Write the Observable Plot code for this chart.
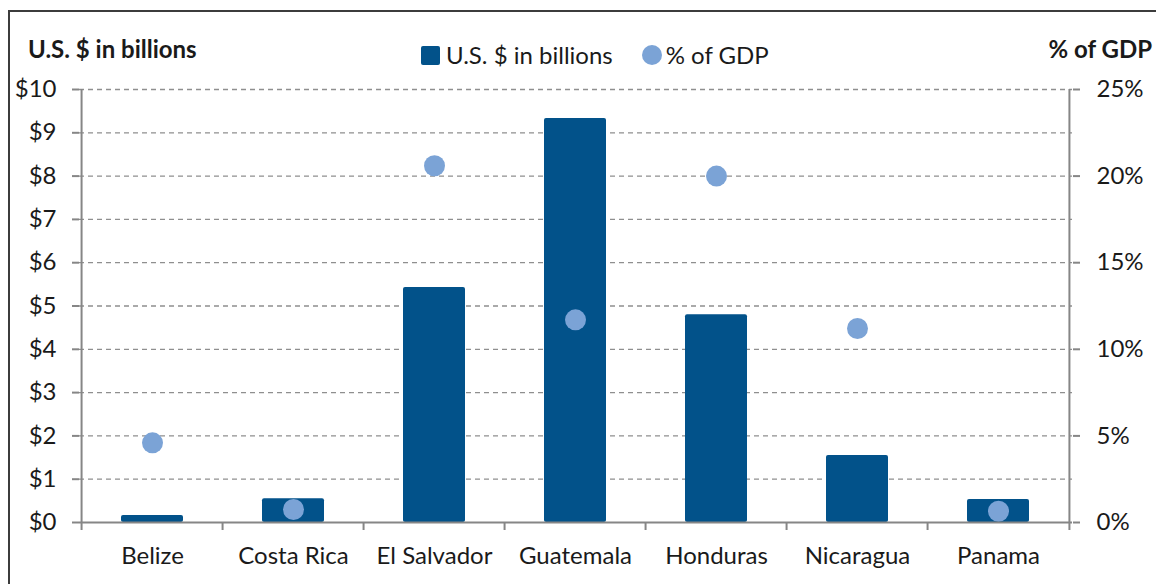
<!DOCTYPE html>
<html>
<head>
<meta charset="utf-8">
<script src="https://cdn.jsdelivr.net/npm/d3@7"></script>
<script src="https://cdn.jsdelivr.net/npm/@observablehq/plot@0.6"></script>
<style>
  html, body { margin: 0; padding: 0; background: #fff; overflow: hidden; }
  #wrap { position: relative; width: 1156px; height: 584px; font-family: Lato, "Open Sans", sans-serif; color: #1a1a1a; }
  #border { position: absolute; left: 8px; top: 10px; width: 1300px; height: 700px; border: 2px solid #3c3c3c; box-sizing: border-box; }
  .lbl { position: absolute; font-size: 24px; white-space: nowrap; line-height: 1; }
  #chart { position: absolute; left: 0; top: 0; }
</style>
</head>
<body>
<div id="wrap">
  <div id="border"></div>
  <div id="chart"></div>
  <div class="lbl" id="tl" style="left:28px; top:37px; font-weight:bold;">U.S. $ in billions</div>
  <div class="lbl" id="tr" style="right:4px; top:37px; font-weight:bold;">% of GDP</div>
  <div class="lbl" style="left:421px; top:43px; display:flex; align-items:center;">
    <span style="display:inline-block; width:19px; height:19px; background:#02528a; border-radius:2px; margin-right:6px;"></span>
    <span>U.S. $ in billions</span>
    <span style="display:inline-block; width:20px; height:20px; background:#7ba3d6; border-radius:50%; margin-left:29px; margin-right:4px;"></span>
    <span>% of GDP</span>
  </div>
</div>
<script>
const categories = ["Belize", "Costa Rica", "El Salvador", "Guatemala", "Honduras", "Nicaragua", "Panama"];
const usdBillions = [0.16, 0.55, 5.43, 9.33, 4.80, 1.55, 0.53];
const pctGDP = [4.6, 0.75, 20.6, 11.7, 20.0, 11.2, 0.65];
const leftTicks = [0, 1, 2, 3, 4, 5, 6, 7, 8, 9, 10];
const rightTicks = [0, 5, 10, 15, 20, 25];

const yMax = 10, pctMax = 25;
const rows = categories.map((c, i) => ({country: c, usd: usdBillions[i], pct: pctGDP[i]}));

const W = 1156, H = 584;
const mL = 79, mR = 84, mT = 89, mB = 62;
const step = (W - mL - mR) / categories.length;
const axisGray = "#868686";

const chart = Plot.plot({
  width: W,
  height: H,
  marginLeft: mL,
  marginRight: mR,
  marginTop: mT,
  marginBottom: mB,
  style: {fontFamily: "Lato, 'Open Sans', sans-serif", fontSize: "24px", color: "#1a1a1a", background: "transparent"},
  x: {type: "band", domain: categories, paddingInner: 0.56, paddingOuter: 0.28, align: 0.5},
  y: {domain: [0, yMax]},
  marks: [
    Plot.ruleY(leftTicks.filter(t => t > 0), {y: d => d, stroke: "#8f8f8f", strokeWidth: 1.3, strokeDasharray: "5,4"}),
    Plot.barY(rows, {x: "country", y: "usd", fill: "#02528a", rx: 2}),
    Plot.dot(rows, {x: "country", y: d => d.pct * yMax / pctMax, r: 10.5, fill: "#7ba3d6", stroke: "none"}),
    Plot.ruleY([0], {stroke: axisGray, strokeWidth: 2}),
    // left and right axis lines at outer band boundaries
    Plot.ruleX([categories[0]], {x: d => d, dx: -step / 2, y1: yMax, y2: 0, insetBottom: -8, stroke: axisGray, strokeWidth: 2}),
    Plot.ruleX([categories[categories.length - 1]], {x: d => d, dx: step / 2, y1: yMax, y2: 0, insetBottom: -8, stroke: axisGray, strokeWidth: 2}),
    // category boundary ticks
    Plot.ruleX(categories.slice(1), {x: d => d, dx: -step / 2, y1: 0, y2: 0, insetBottom: -8, stroke: axisGray, strokeWidth: 2}),
    Plot.axisY({anchor: "left", ticks: leftTicks, tickFormat: d => "$" + d, tickSize: 7, tickPadding: 16, stroke: axisGray, strokeWidth: 2, fill: "#1a1a1a", label: null}),
    Plot.axisY({anchor: "right", ticks: rightTicks.map(t => t * yMax / pctMax), tickFormat: d => Math.round(d * pctMax / yMax) + "%", tickSize: 7, tickPadding: 17, stroke: axisGray, strokeWidth: 2, fill: "#1a1a1a", label: null}),
    Plot.axisX({anchor: "bottom", tickSize: 0, tickPadding: 24, fill: "#1a1a1a", label: null})
  ]
});
document.getElementById("chart").appendChild(chart);
</script>
</body>
</html>
